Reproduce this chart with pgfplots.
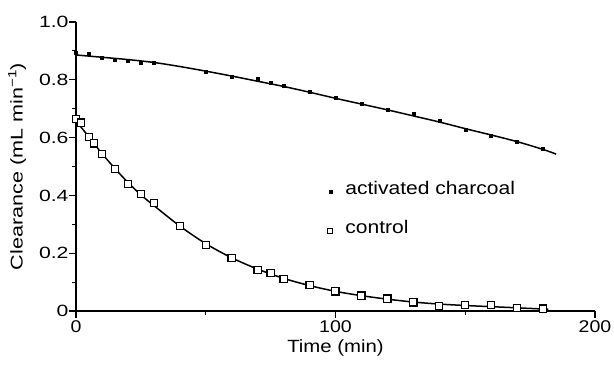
\documentclass[border=0pt]{standalone}
\usepackage{fontspec}
\setmainfont{Liberation Sans}[FakeStretch=1.15]
\newfontfamily\ylfont{Liberation Sans}[FakeStretch=1.27]
\newfontfamily\ytfont{Liberation Sans}[FakeStretch=1.3]
\usepackage{pgfplots}
\pgfplotsset{compat=1.18}
\newcommand{\ff}{\fontsize{17}{20}\selectfont}
\newcommand{\lf}{\fontsize{18.3}{21}\selectfont}
\begin{document}
\begin{tikzpicture}[font=\ff]
\begin{axis}[
  scale only axis, width=519pt, height=289pt,
  xmin=0, xmax=200, ymin=0, ymax=1,
  axis lines=left, axis line style={-, line width=1.3pt},
  tick align=outside,
  xtick={0,100,200}, minor xtick={50,150},
  ytick={0,0.2,0.4,0.6,0.8,1.0}, yticklabels={0,0.2,0.4,0.6,0.8,1.0},
  minor ytick={0.1,0.3,0.5,0.7,0.9},
  major tick length=7pt, minor tick length=4pt,
  every tick/.style={black, line width=1.1pt},
  /pgf/number format/assume math mode=true,
  ticklabel style={font=\ff},
  xticklabel style={yshift=1pt},
  yticklabel style={font=\ytfont\fontsize{16.3}{19}\selectfont, xshift=3pt},
  xlabel={Time (min)}, ylabel={Clearance (mL min\textsuperscript{−1})},
  xlabel style={font=\fontsize{17.7}{20}\selectfont, yshift=0pt},
  ylabel style={font=\ylfont\fontsize{17}{20}\selectfont, yshift=6pt},
  legend style={at={(axis cs:97.5,0.3443)}, anchor=west, xshift=-1.5pt, draw=none, fill=none, font=\lf,
    inner sep=0pt, row sep=28.7pt, legend cell align=left,
    nodes={inner sep=0pt, text height=0.75em, text depth=0.25em},
    /tikz/every odd column/.append style={column sep=12.5pt}},
  clip=false,
]
\coordinate (O) at (axis cs:0,0);
% fitted lines
\addplot[black, line width=1.5pt, smooth, forget plot] coordinates {
(0,0.886) (10,0.878) (20,0.870) (30,0.860) (40,0.846) (50,0.830) (60,0.813)
(70,0.795) (80,0.777) (90,0.757) (100,0.736) (110,0.716) (120,0.696) (130,0.675)
(140,0.654) (150,0.631) (160,0.609) (170,0.586) (180,0.559) (185,0.543)};
\addplot[black, line width=1.5pt, smooth, forget plot] coordinates {
(0,0.658) (5,0.602) (10,0.545) (15,0.493) (20,0.445) (25,0.402) (30,0.365)
(40,0.294) (50,0.233) (60,0.184) (70,0.145) (80,0.113) (90,0.088) (100,0.068)
(110,0.053) (120,0.041) (130,0.031) (140,0.024) (150,0.019) (160,0.015)
(170,0.011) (182,0.006)};
% data
\addplot[only marks, mark=square*, mark size=1.5pt, black] coordinates {
(0,0.894) (5,0.889) (10,0.878) (15,0.869) (20,0.867) (25,0.860) (30,0.859)
(50,0.828) (60,0.811) (70,0.803) (75,0.791) (80,0.779) (90,0.759) (100,0.738)
(110,0.719) (120,0.698) (130,0.682) (140,0.659) (150,0.629) (160,0.606)
(170,0.586) (180,0.560)};
\addplot[only marks, mark=square*, mark size=3.6pt, black, fill=white, line width=1.2pt,
  legend image post style={mark size=2.6pt, line width=1.1pt}] coordinates {
(0,0.664) (2,0.652) (5,0.603) (7,0.580) (10,0.543) (15,0.491) (20,0.439)
(25,0.404) (30,0.373) (40,0.294) (50,0.229) (60,0.184) (70,0.142) (75,0.131)
(80,0.111) (90,0.091) (100,0.068) (110,0.053) (120,0.043) (130,0.030)
(140,0.018) (150,0.020) (160,0.020) (170,0.011) (180,0.008)};
\legend{activated charcoal, control}
\end{axis}
\pgfresetboundingbox
\path ([shift={(-76pt,-54pt)}]O) rectangle ([shift={(538pt,311pt)}]O);
\end{tikzpicture}
\end{document}
